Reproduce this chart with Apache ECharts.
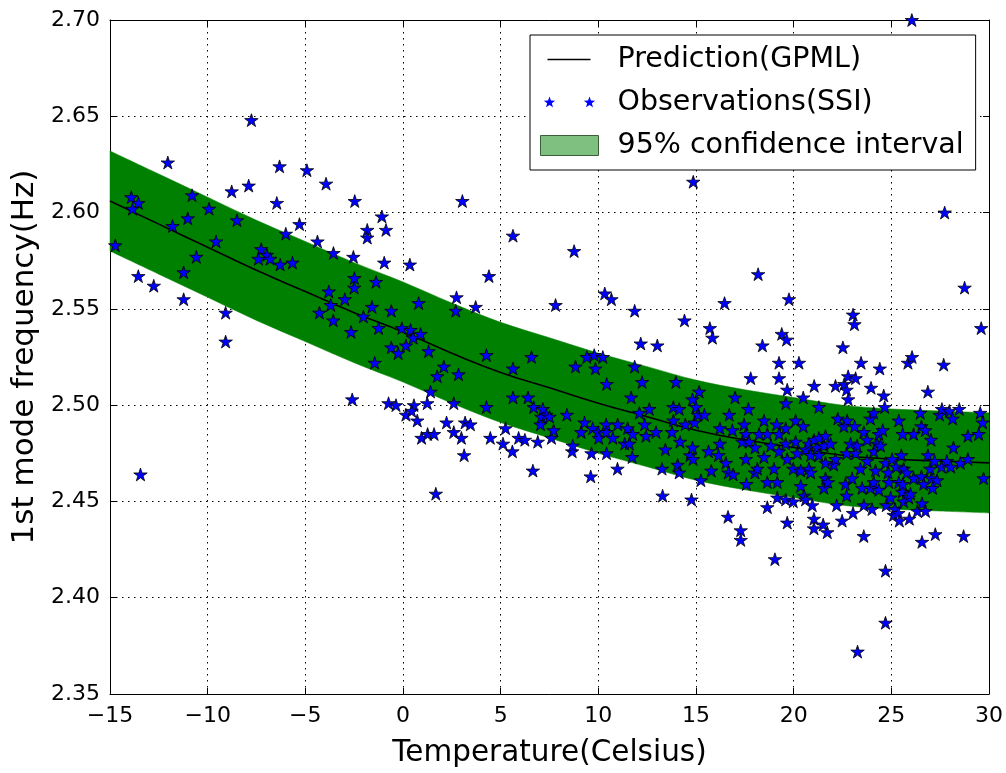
<!DOCTYPE html>
<html>
<head>
<meta charset="utf-8">
<script src="https://cdn.jsdelivr.net/npm/echarts@6/dist/echarts.min.js"></script>
<style>
  html, body { margin: 0; padding: 0; background: #fff; }
  #chart { width: 1006px; height: 773px; }
</style>
</head>
<body>
<div id="chart"></div>
<script>
const gridTemp  = [-15, -12.5, -10, -7.5, -5, -2.5, 0, 2.5, 5, 7.5, 10, 12.5, 15, 17.5, 20, 22.5, 25, 27.5, 30];
const predMean  = [2.606, 2.594, 2.582, 2.570, 2.559, 2.548, 2.538, 2.527, 2.517, 2.509, 2.501, 2.494, 2.487, 2.482, 2.478, 2.474, 2.472, 2.471, 2.470];
const predUpper = [2.632, 2.620, 2.608, 2.596, 2.585, 2.574, 2.564, 2.553, 2.543, 2.535, 2.527, 2.520, 2.513, 2.508, 2.504, 2.500, 2.498, 2.497, 2.496];
const predLower = [2.580, 2.568, 2.556, 2.544, 2.533, 2.522, 2.512, 2.501, 2.491, 2.483, 2.475, 2.468, 2.461, 2.456, 2.452, 2.448, 2.446, 2.445, 2.444];

// ——— observations (SSI) ———
const obsTemp = [
  -14.73, -13.91, -13.55, -13.85, -13.55, -13.44, -12.76, -12.04, -11.80, -11.23,
  -11.23, -11.02, -10.80, -10.58, -9.93, -9.57, -9.08, -9.08, -8.77, -8.50,
  -7.90, -7.76, -7.26, -7.40, -6.97, -6.80, -6.46, -6.32, -6.29, -6.00,
  -5.66, -5.30, -4.92, -4.38, -3.94, -3.80, -3.70, -3.57, -3.56, -4.28,
  -2.98, -2.66, -2.60, -2.54, -2.50, -2.49, -2.47, -2.03, -1.83, -1.83,
  -1.59, -1.45, -1.38, -1.25, -1.08, -0.96, -0.87, -0.74, -0.60, -0.60,
  -0.36, -0.25, -0.06, 0.15, 0.35, 0.39, 0.52, 0.56, 0.15, 0.73,
  0.44, 0.80, 0.90, 0.95, 1.24, 1.26, 1.31, 1.41, 1.59, 1.68,
  1.75, 2.09, 2.23, 2.60, 2.60, 2.70, 2.74, 2.84, 2.99, 3.04,
  3.13, 3.18, 3.45, 3.72, 4.27, 4.27, 4.40, 4.47, 5.12, 5.25,
  5.60, 5.63, 5.63, 5.63, 5.92, 6.24, 6.40, 6.58, 6.65, 6.69,
  6.90, 7.04, 7.08, 7.16, 7.33, 7.50, 7.60, 7.71, 7.81, 8.39,
  8.66, 8.69, 8.76, 8.83, 9.12, 9.29, 9.41, 9.61, 9.65, 9.71,
  9.79, 9.85, 9.99, 10.02, 10.23, 10.33, 10.40, 10.40, 10.42, 10.43,
  10.67, 10.74, 10.98, 10.99, 11.35, 11.50, 11.59, 11.68, 11.73, 11.76,
  11.86, 11.86, 12.10, 12.17, 12.24, 12.37, 12.44, 12.61, 12.95, 13.02,
  13.26, 13.29, 13.43, 13.77, 13.84, 13.84, 13.97, 14.06, 14.14, 14.14,
  14.18, 14.41, 14.45, 14.69, 14.77, 14.85, 14.82, 14.82, 14.86, 14.92,
  15.00, 15.10, 15.16, 15.25, 15.43, 15.64, 15.71, 15.78, 15.84, 16.15,
  16.22, 16.22, 16.46, 16.53, 16.64, 16.66, 16.70, 16.86, 16.90, 17.00,
  17.29, 17.29, 17.37, 17.46, 17.55, 17.55, 17.58, 17.68, 17.72, 17.80,
  18.02, 18.02, 18.14, 18.18, 18.23, 18.40, 18.48, 18.48, 18.65, 18.65,
  18.65, 18.83, 18.99, 19.04, 19.13, 19.16, 19.16, 19.25, 19.25, 19.25,
  19.25, 19.39, 19.59, 19.59, 19.59, 19.60, 19.64, 19.67, 19.67, 19.67,
  19.76, 19.98, 19.98, 20.10, 20.10, 20.18, 20.27, 20.36, 20.36, 20.49,
  20.49, 20.53, 20.61, 20.61, 20.78, 20.78, 20.87, 20.87, 20.95, 21.04,
  21.04, 21.04, 21.05, 21.21, 21.29, 21.29, 21.29, 21.51, 21.55, 21.55,
  21.63, 21.63, 21.63, 21.72, 21.75, 21.89, 22.05, 22.14, 22.14, 22.20,
  22.26, 22.48, 22.52, 22.57, 22.59, 22.65, 22.71, 22.71, 22.71, 22.74,
  22.79, 22.79, 22.91, 22.99, 23.04, 23.04, 23.11, 23.12, 23.17, 23.17,
  23.25, 23.27, 23.42, 23.45, 23.50, 23.59, 23.59, 23.59, 23.76, 23.76,
  23.93, 23.93, 23.96, 24.01, 24.10, 24.10, 24.10, 24.19, 24.27, 24.36,
  24.36, 24.41, 24.44, 24.56, 24.61, 24.66, 24.70, 24.70, 24.70, 24.74,
  24.83, 24.87, 24.96, 25.04, 25.12, 25.19, 25.24, 25.36, 25.38, 25.38,
  25.41, 25.51, 25.55, 25.58, 25.58, 25.63, 25.63, 25.80, 25.85, 25.89,
  25.92, 25.98, 26.05, 26.06, 26.14, 26.14, 26.33, 26.48, 26.54, 26.54,
  26.57, 26.57, 26.65, 26.74, 26.75, 26.87, 26.87, 26.99, 27.03, 27.05,
  27.11, 27.21, 27.25, 27.34, 27.47, 27.57, 27.59, 27.68, 27.73, 27.84,
  27.97, 28.04, 28.14, 28.18, 28.48, 28.53, 28.70, 28.75, 28.92, 28.92,
  29.47, 29.55, 29.60, 29.67, 29.72
];
const obsFreq = [
  2.583, 2.608, 2.605, 2.602, 2.567, 2.464, 2.562, 2.626, 2.593, 2.569,
  2.555, 2.597, 2.609, 2.577, 2.602, 2.585, 2.548, 2.533, 2.611, 2.596,
  2.614, 2.648, 2.581, 2.576, 2.578, 2.576, 2.605, 2.624, 2.573, 2.589,
  2.574, 2.594, 2.622, 2.585, 2.615, 2.559, 2.552, 2.544, 2.579, 2.548,
  2.555, 2.538, 2.503, 2.577, 2.561, 2.566, 2.606, 2.546, 2.591, 2.587,
  2.551, 2.522, 2.564, 2.540, 2.598, 2.574, 2.591, 2.501, 2.549, 2.530,
  2.500, 2.527, 2.540, 2.531, 2.573, 2.539, 2.535, 2.500, 2.495, 2.492,
  2.497, 2.553, 2.537, 2.483, 2.501, 2.485, 2.528, 2.507, 2.485, 2.454,
  2.515, 2.520, 2.491, 2.501, 2.486, 2.549, 2.556, 2.516, 2.483, 2.606,
  2.474, 2.491, 2.490, 2.551, 2.526, 2.499, 2.567, 2.483, 2.480, 2.488,
  2.476, 2.588, 2.519, 2.504, 2.483, 2.482, 2.504, 2.525, 2.466, 2.499,
  2.481, 2.490, 2.494, 2.498, 2.495, 2.494, 2.483, 2.487, 2.552, 2.495,
  2.476, 2.479, 2.580, 2.520, 2.486, 2.491, 2.525, 2.463, 2.475, 2.488,
  2.526, 2.519, 2.486, 2.483, 2.525, 2.558, 2.490, 2.486, 2.475, 2.511,
  2.555, 2.483, 2.467, 2.490, 2.480, 2.488, 2.480, 2.504, 2.473, 2.485,
  2.549, 2.520, 2.496, 2.532, 2.512, 2.490, 2.484, 2.498, 2.486, 2.531,
  2.467, 2.453, 2.477, 2.486, 2.499, 2.492, 2.512, 2.469, 2.498, 2.465,
  2.481, 2.544, 2.490, 2.474, 2.451, 2.472, 2.503, 2.478, 2.616, 2.491,
  2.499, 2.495, 2.507, 2.461, 2.495, 2.476, 2.540, 2.466, 2.535, 2.474,
  2.488, 2.480, 2.553, 2.470, 2.442, 2.465, 2.495, 2.487, 2.464, 2.504,
  2.435, 2.430, 2.481, 2.490, 2.485, 2.472, 2.459, 2.498, 2.481, 2.514,
  2.478, 2.465, 2.467, 2.568, 2.485, 2.531, 2.492, 2.473, 2.485, 2.460,
  2.447, 2.479, 2.467, 2.420, 2.490, 2.460, 2.452, 2.522, 2.514, 2.485,
  2.476, 2.537, 2.488, 2.480, 2.451, 2.501, 2.534, 2.508, 2.472, 2.439,
  2.555, 2.467, 2.450, 2.492, 2.481, 2.475, 2.522, 2.466, 2.458, 2.504,
  2.489, 2.453, 2.477, 2.451, 2.480, 2.467, 2.474, 2.465, 2.448, 2.482,
  2.441, 2.436, 2.510, 2.478, 2.499, 2.483, 2.474, 2.438, 2.479, 2.457,
  2.484, 2.470, 2.462, 2.434, 2.460, 2.480, 2.469, 2.510, 2.472, 2.448,
  2.493, 2.440, 2.530, 2.489, 2.511, 2.459, 2.508, 2.475, 2.453, 2.492,
  2.503, 2.515, 2.480, 2.462, 2.547, 2.444, 2.542, 2.489, 2.514, 2.475,
  2.479, 2.372, 2.467, 2.522, 2.457, 2.486, 2.448, 2.432, 2.482, 2.471,
  2.493, 2.457, 2.509, 2.446, 2.496, 2.476, 2.460, 2.466, 2.480, 2.485,
  2.456, 2.519, 2.479, 2.487, 2.505, 2.499, 2.470, 2.414, 2.387, 2.448,
  2.465, 2.460, 2.452, 2.472, 2.443, 2.446, 2.468, 2.444, 2.492, 2.460,
  2.440, 2.474, 2.455, 2.485, 2.459, 2.467, 2.450, 2.465, 2.522, 2.452,
  2.441, 2.454, 2.700, 2.525, 2.485, 2.462, 2.445, 2.496, 2.489, 2.463,
  2.449, 2.429, 2.459, 2.487, 2.445, 2.507, 2.474, 2.467, 2.482, 2.462,
  2.457, 2.471, 2.433, 2.461, 2.495, 2.468, 2.498, 2.521, 2.600, 2.471,
  2.497, 2.468, 2.493, 2.478, 2.498, 2.470, 2.432, 2.561, 2.484, 2.472,
  2.485, 2.496, 2.540, 2.491, 2.462
];

const FONT = 'DejaVu Sans';
const STAR = 'path://M0,-10 L2.245,-3.09 L9.511,-3.09 L3.633,1.18 L5.878,8.09 L0,3.82 L-5.878,8.09 L-3.633,1.18 L-9.511,-3.09 L-2.245,-3.09 Z';
// legend samples; the zero-length corner segments only pin the 58x20 box
const PIN = 'M0,0 L0,0 Z M58,20 L58,20 Z ';
const LINE_ICON = 'path://' + PIN + 'M7,9.3 L50,9.3 L50,10.7 L7,10.7 Z';
const STAR_PAIR = 'path://' + PIN +
  'M9,4 L10.41,8.06 L14.71,8.15 L11.28,10.74 L12.53,14.85 L9,12.4 L5.47,14.85 L6.72,10.74 L3.29,8.15 L7.59,8.06 Z ' +
  'M49,4 L50.41,8.06 L54.71,8.15 L51.28,10.74 L52.53,14.85 L49,12.4 L45.47,14.85 L46.72,10.74 L43.29,8.15 L47.59,8.06 Z';

const minus = v => String(v).replace('-', '\u2212');

// smooth curve through pixel points (Catmull-Rom -> cubic bezier)
function curve(pts, first) {
  let d = (first ? 'M' : 'L') + pts[0][0] + ',' + pts[0][1];
  for (let i = 0; i < pts.length - 1; i++) {
    const p0 = pts[Math.max(i - 1, 0)], p1 = pts[i], p2 = pts[i + 1], p3 = pts[Math.min(i + 2, pts.length - 1)];
    const c1 = [p1[0] + (p2[0] - p0[0]) / 6, p1[1] + (p2[1] - p0[1]) / 6];
    const c2 = [p2[0] - (p3[0] - p1[0]) / 6, p2[1] - (p3[1] - p1[1]) / 6];
    d += ' C' + c1 + ' ' + c2 + ' ' + p2;
  }
  return d;
}

const xBase = {
  type: 'value', min: -15, max: 30, interval: 5,
  axisLine: { onZero: false, lineStyle: { color: '#000', width: 1 } },
  axisTick: { inside: true, length: 6, lineStyle: { color: '#000' } }
};
const yBase = {
  type: 'value', min: 2.35, max: 2.70, interval: 0.05,
  axisLine: { onZero: false, lineStyle: { color: '#000', width: 1 } },
  axisTick: { inside: true, length: 6, lineStyle: { color: '#000' } }
};
const grid = { color: '#000', width: 1, type: [1.5, 4.5] };

const chart = echarts.init(document.getElementById('chart'));
chart.setOption({
  animation: false,
  textStyle: { fontFamily: FONT },
  grid: { left: 110, right: 16, top: 20, bottom: 73 },
  legend: {
    orient: 'vertical', left: 530, top: 35,
    padding: [10, 12, 10, 10], itemGap: 14,
    itemWidth: 58, itemHeight: 20,
    backgroundColor: '#fff', borderColor: '#000', borderWidth: 1,
    selectedMode: false,
    textStyle: { fontSize: 28.5, color: '#000', fontFamily: FONT, padding: [0, 0, 0, 14] },
    data: [
      { name: 'Prediction(GPML)', icon: LINE_ICON, itemStyle: { color: '#000', borderWidth: 0 } },
      { name: 'Observations(SSI)', icon: STAR_PAIR, itemStyle: { color: '#0000ff', borderWidth: 0 } },
      { name: '95% confidence interval', icon: 'rect', itemStyle: { color: '#7fbf7f', borderColor: '#3a5f3a', borderWidth: 1 } }
    ]
  },
  xAxis: [
    Object.assign({}, xBase, {
      position: 'bottom',
      name: 'Temperature(Celsius)', nameLocation: 'middle', nameGap: 44,
      nameTextStyle: { fontSize: 29.5, color: '#000', fontFamily: FONT },
      axisLabel: { fontSize: 22, color: '#000', margin: 11, formatter: minus },
      splitLine: { show: true, lineStyle: grid }
    }),
    Object.assign({}, xBase, {
      position: 'top', axisLabel: { show: false }, splitLine: { show: false }
    })
  ],
  yAxis: [
    Object.assign({}, yBase, {
      position: 'left',
      name: '1st mode frequency(Hz)', nameLocation: 'middle', nameGap: 68,
      nameTextStyle: { fontSize: 31, color: '#000', fontFamily: FONT },
      axisLabel: { fontSize: 22, color: '#000', margin: 10, formatter: v => v.toFixed(2) },
      splitLine: { show: true, lineStyle: grid }
    }),
    Object.assign({}, yBase, {
      position: 'right', axisLabel: { show: false }, splitLine: { show: false }
    })
  ],
  series: [
    {
      name: '95% confidence interval',
      type: 'custom',
      xAxisIndex: 0, yAxisIndex: 0,
      silent: true, z: 1,
      itemStyle: { color: '#008000' },
      data: [[gridTemp[0], predMean[0]]],
      renderItem: (params, api) => {
        const up = gridTemp.map((t, i) => api.coord([t, predUpper[i]]));
        const lo = gridTemp.map((t, i) => api.coord([t, predLower[i]])).reverse();
        return {
          type: 'path',
          shape: { pathData: curve(up, true) + ' ' + curve(lo, false) + ' Z' },
          style: { fill: '#008000', stroke: '#008000', lineWidth: 0.5 }
        };
      }
    },
    {
      name: 'Prediction(GPML)',
      type: 'line', z: 3,
      data: gridTemp.map((t, i) => [t, predMean[i]]),
      smooth: true, symbol: 'none',
      lineStyle: { color: '#000', width: 1.6 },
      itemStyle: { color: '#000' }
    },
    {
      name: 'Observations(SSI)',
      type: 'scatter', z: 4,
      data: obsTemp.map((t, i) => [t, obsFreq[i]]),
      symbol: STAR, symbolSize: 13.5, symbolKeepAspect: true,
      itemStyle: { color: '#0000ff', borderColor: '#000', borderWidth: 0.8, opacity: 1 }
    }
  ]
});
</script>
</body>
</html>
